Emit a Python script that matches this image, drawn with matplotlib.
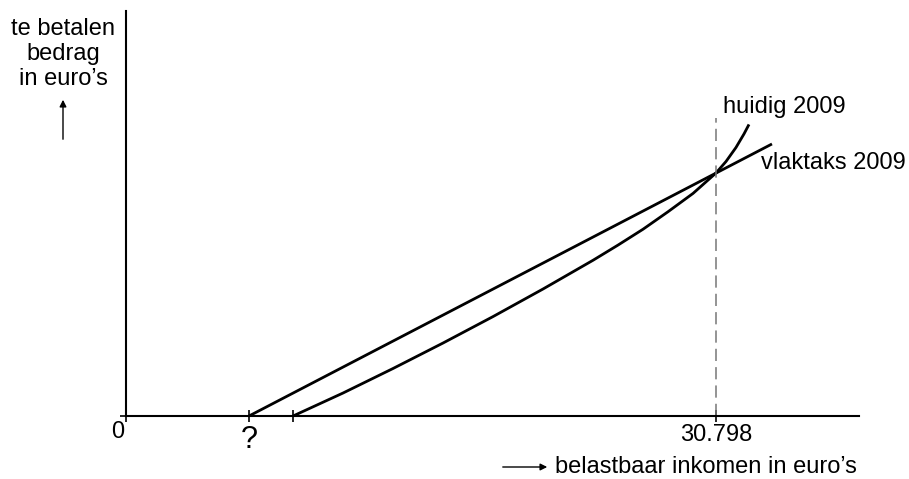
import matplotlib
matplotlib.use('Agg')
import matplotlib.pyplot as plt

# Data (belastbaar inkomen -> te betalen bedrag, in euro's)
vlaktaks_x = [6420, 33720]
vlaktaks_y = [0, 14200]

huidig_x = [8720, 11330, 13940, 16550, 19160, 21770, 24380, 25680, 26990,
            28290, 29600, 30798, 31320, 31840, 32260, 32520]
huidig_y = [0, 1200, 2480, 3810, 5190, 6630, 8130, 8920, 9750,
            10660, 11620, 12685, 13285, 14015, 14725, 15220]

snijpunt_x = 30798
tick_pos = [0, 6420, 8720, 30798]

plt.rc('font', family='Liberation Sans')

W, H = 909, 479
fig = plt.figure(figsize=(W / 100, H / 100), dpi=100)
ax = fig.add_axes([0, 0, 1, 1])

scale = 30798 / 590  # euro per pixel
ax.set_xlim(-126 * scale, (W - 126) * scale)
ax.set_ylim(-(H - 416) * scale, 416 * scale)

def px(x, y):
    return (x / W, 1 - y / H)

# Axes through the origin
for side in ['top', 'right']:
    ax.spines[side].set_visible(False)
ax.spines['left'].set_position(('data', 0))
ax.spines['bottom'].set_position(('data', 0))
ax.spines['left'].set_bounds(0, 405 * scale)
ax.spines['bottom'].set_bounds(0, 733 * scale)
for side in ['left', 'bottom']:
    ax.spines[side].set_linewidth(1.5)
ax.set_xticks(tick_pos)
ax.set_xticklabels([])
ax.set_yticks([0])
ax.set_yticklabels([])
ax.tick_params(direction='inout', length=8, width=1.2, color='black')

# Lines
ax.plot(vlaktaks_x, vlaktaks_y, color='black', lw=2.0, solid_capstyle='butt')
ax.plot(huidig_x, huidig_y, color='black', lw=2.0, solid_capstyle='butt',
        solid_joinstyle='round')
ax.vlines(snijpunt_x, 0, 298 * scale, colors='#777777', lw=1.1, linestyles=(0, (8, 4)))

fs = 17
ax.text(*px(723, 107), 'huidig 2009', transform=fig.transFigure, fontsize=fs, ha='left', va='center')
ax.text(*px(761, 163), 'vlaktaks 2009', transform=fig.transFigure, fontsize=fs, ha='left', va='center')
ax.text(*px(118, 432), '0', transform=fig.transFigure, fontsize=fs, ha='center', va='center')
ax.text(*px(249, 440), '?', transform=fig.transFigure, fontsize=22, ha='center', va='center')
ax.text(*px(716, 435), '30.798', transform=fig.transFigure, fontsize=fs, ha='center', va='center')
ax.text(*px(555, 467), 'belastbaar inkomen in euro’s', transform=fig.transFigure, fontsize=fs,
        ha='left', va='center')
ax.text(*px(63, 54), 'te betalen\nbedrag\nin euro’s', transform=fig.transFigure, fontsize=fs,
        ha='center', va='center', linespacing=1.17)

# Arrows
ax.annotate('', xy=px(63, 97), xytext=px(63, 142), xycoords='figure fraction',
            textcoords='figure fraction',
            arrowprops=dict(arrowstyle='-|>', color='black', lw=1.0, mutation_scale=10))
ax.annotate('', xy=px(550, 467), xytext=px(500, 467), xycoords='figure fraction',
            textcoords='figure fraction',
            arrowprops=dict(arrowstyle='-|>', color='black', lw=1.0, mutation_scale=10))

fig.savefig('out.png', dpi=100)
